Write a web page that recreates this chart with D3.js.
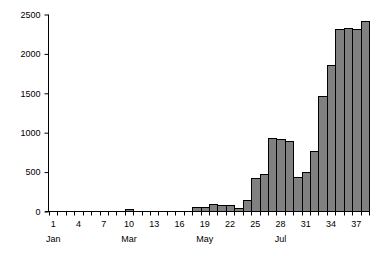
<!DOCTYPE html>
<html>
<head>
<meta charset="utf-8">
<script src="https://cdn.jsdelivr.net/npm/d3@7"></script>
<style>
  body { margin: 0; background: #fff; }
  text { font-family: "Liberation Sans", Arial, sans-serif; font-size: 9px; fill: #000; }
</style>
</head>
<body>
<script>
let width = 384
let height = 256
const margin = {top: 14, right: 15, bottom: 45, left: 49}

// weeks 1..38, cases per week
const weeks = d3.range(1, 39)
const cases = [0, 0, 0, 0, 0, 0, 0, 0, 0, 20,
               0, 0, 0, 0, 0, 0, 0, 47, 47, 85,
               72, 72, 44, 135, 415, 470, 922, 910, 885, 428,
               491, 758, 1456, 1849, 2306, 2318, 2306, 2407]
const yTicks = [0, 500, 1000, 1500, 2000, 2500]
const months = [{week: 1, name: "Jan"}, {week: 10, name: "Mar"}, {week: 19, name: "May"}, {week: 28, name: "Jul"}]

let svg = d3.select("body").append("svg")
  .attr("width", width)
  .attr("height", height)

let x = d3.scaleBand()
  .domain(weeks)
  .range([margin.left, width - margin.right])
  .padding(0)

let y = d3.scaleLinear()
  .domain([0, 2500])
  .range([height - margin.bottom, margin.top])

// bars
svg.selectAll("rect")
  .data(weeks).enter()
  .append("rect")
  .attr("x", d => Math.round(x(d)) + 0.5)
  .attr("y", (d, i) => Math.round(y(cases[i])) + 0.5)
  .attr("width", d => Math.round(x(d) + x.bandwidth()) - Math.round(x(d)))
  .attr("height", (d, i) => Math.round(y(0)) - Math.round(y(cases[i])))
  .attr("fill", d => cases[d - 1] > 0 ? "#808080" : "none")
  .attr("stroke", d => cases[d - 1] > 0 ? "#000" : "none")
  .attr("stroke-width", 1)

// y axis
let yAxis = svg.append("g")
  .attr("transform", `translate(${margin.left - 0.5},0.5)`)
  .call(d3.axisLeft(y).tickValues(yTicks).tickSize(4).tickPadding(4).tickFormat(d3.format("d")))
yAxis.select(".domain").attr("d", `M0,${y(2500)}V${Math.round(y(0))}`)

// x axis: ticks at band edges
let base = Math.round(y(0)) + 0.5
let xg = svg.append("g")
xg.append("line")
  .attr("x1", margin.left - 4).attr("x2", width - margin.right)
  .attr("y1", base).attr("y2", base)
  .attr("stroke", "#000")
xg.selectAll("line.tick")
  .data(weeks.concat([39])).enter()
  .append("line")
  .attr("class", "tick")
  .attr("x1", d => Math.round(d === 39 ? x(38) + x.bandwidth() : x(d)) + 0.5)
  .attr("x2", d => Math.round(d === 39 ? x(38) + x.bandwidth() : x(d)) + 0.5)
  .attr("y1", base).attr("y2", base + 4)
  .attr("stroke", "#000")
xg.selectAll("text.wk")
  .data(weeks.filter(d => (d - 1) % 3 === 0)).enter()
  .append("text")
  .attr("class", "wk")
  .attr("x", d => x(d) + x.bandwidth() / 2)
  .attr("y", base + 15)
  .attr("text-anchor", "middle")
  .text(d => d)
xg.selectAll("text.mon")
  .data(months).enter()
  .append("text")
  .attr("class", "mon")
  .attr("x", d => x(d.week) + x.bandwidth() / 2)
  .attr("y", base + 30)
  .attr("text-anchor", "middle")
  .text(d => d.name)

svg.selectAll("text").style("font-family", "'Liberation Sans', Arial, sans-serif").style("font-size", "9px")
</script>
</body>
</html>
